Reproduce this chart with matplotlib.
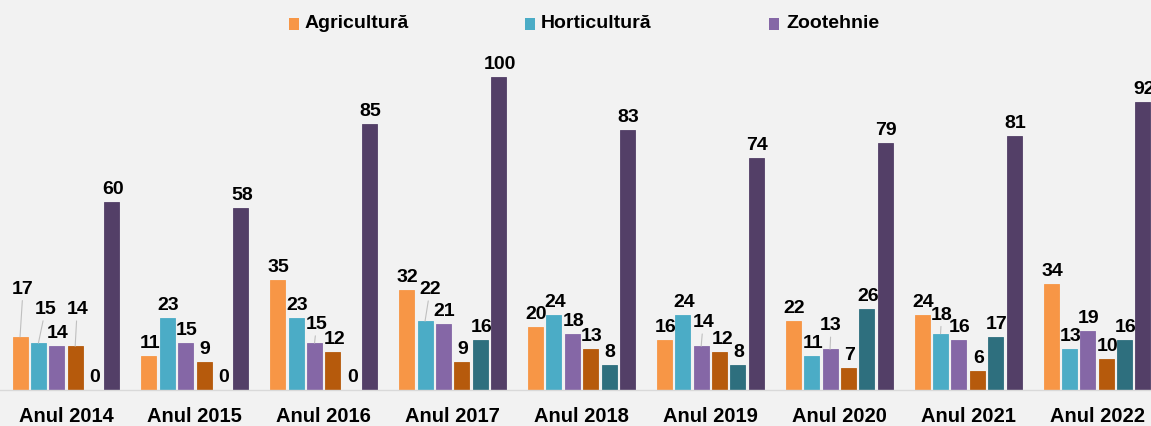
import matplotlib
matplotlib.use("Agg")
import matplotlib.pyplot as plt
from matplotlib.patches import Rectangle
import numpy as np

plt.rcParams['font.family'] = ['Liberation Sans', 'DejaVu Sans']

categories = ["Anul 2014", "Anul 2015", "Anul 2016", "Anul 2017", "Anul 2018",
              "Anul 2019", "Anul 2020", "Anul 2021", "Anul 2022"]
legend_names = ["Agricultură", "Horticultură", "Zootehnie"]

s_agricultura = [17, 11, 35, 32, 20, 16, 22, 24, 34]
s_horticultura = [15, 23, 23, 22, 24, 24, 11, 18, 13]
s_zootehnie = [14, 15, 15, 21, 18, 14, 13, 16, 19]
s_four = [14, 9, 12, 9, 13, 12, 7, 6, 10]
s_five = [0, 0, 0, 16, 8, 8, 26, 17, 16]
s_six = [60, 58, 85, 100, 83, 74, 79, 81, 92]

series = [s_agricultura, s_horticultura, s_zootehnie, s_four, s_five, s_six]
colors = ["#F79646", "#4BACC6", "#8567A6", "#B65A0C", "#2E6F7E", "#533F67"]

W, H = 1151, 426
fig = plt.figure(figsize=(W / 100, H / 100), dpi=100)
fig.patch.set_facecolor("#F2F2F2")
ax = fig.add_axes([0, 36 / H, 1, 390 / H])
ax.set_facecolor("#F2F2F2")

x = np.arange(len(categories))
pitch = 0.1426
width = 0.116

# label layout tweaks: (group, series) -> (dx px, baseline offset px, leader)
tweaks = {
    (0, 0): (3, 43, True),
    (0, 1): (7, 29, True),
    (0, 3): (2, 32, True),
    (2, 2): (2, 14, True),
    (2, 3): (2, 8, False),
    (3, 1): (5, 27, True),
    (5, 2): (2, 19, True),
    (5, 3): (3, 8, False),
    (6, 2): (1, 19, True),
    (7, 1): (1, 14, True),
}

for j, (vals, c) in enumerate(zip(series, colors)):
    xs = x + (j - 2.5) * pitch
    ax.bar(xs, vals, width=width, color=c, edgecolor=c, linewidth=0.6, zorder=2)
    for i, (xi, v) in enumerate(zip(xs, vals)):
        dx, dy, lead = tweaks.get((i, j), (1, 8, False))
        kw = dict(xy=(xi, v), xytext=(dx, dy), textcoords="offset pixels",
                  ha="center", va="baseline", fontsize=14, fontweight="bold",
                  color="#000000", zorder=4, annotation_clip=False)
        if lead:
            kw["arrowprops"] = dict(arrowstyle="-", color="#BFBFBF", lw=0.8,
                                    shrinkA=0, shrinkB=0)
        ax.annotate(f"{v}", **kw)

ax.set_xlim(-0.512, 8.419)
ax.set_ylim(0, 124.6)
ax.set_xticks(x)
ax.set_xticklabels(categories, fontsize=14.5, fontweight="bold")
ax.tick_params(axis="x", length=0, pad=12.5)
ax.set_yticks([])
for s in ["top", "right", "left"]:
    ax.spines[s].set_visible(False)
ax.spines["bottom"].set_color("#D9D9D9")
ax.spines["bottom"].set_linewidth(1.0)

# legend (only three first series shown)
leg_marker_x = [289, 525, 769]
leg_text_x = [305, 541, 786]
leg_y = 24
for name, c, mx, tx in zip(legend_names, colors[:3], leg_marker_x, leg_text_x):
    fig.add_artist(Rectangle((mx / W, (H - leg_y - 5.5) / H), 10 / W, 11 / H,
                             transform=fig.transFigure, color=c, lw=0))
    fig.text(tx / W, (H - leg_y) / H, name, fontsize=14, fontweight="bold",
             ha="left", va="center", color="#000000")

fig.savefig("out.png", dpi=100, facecolor=fig.get_facecolor())
